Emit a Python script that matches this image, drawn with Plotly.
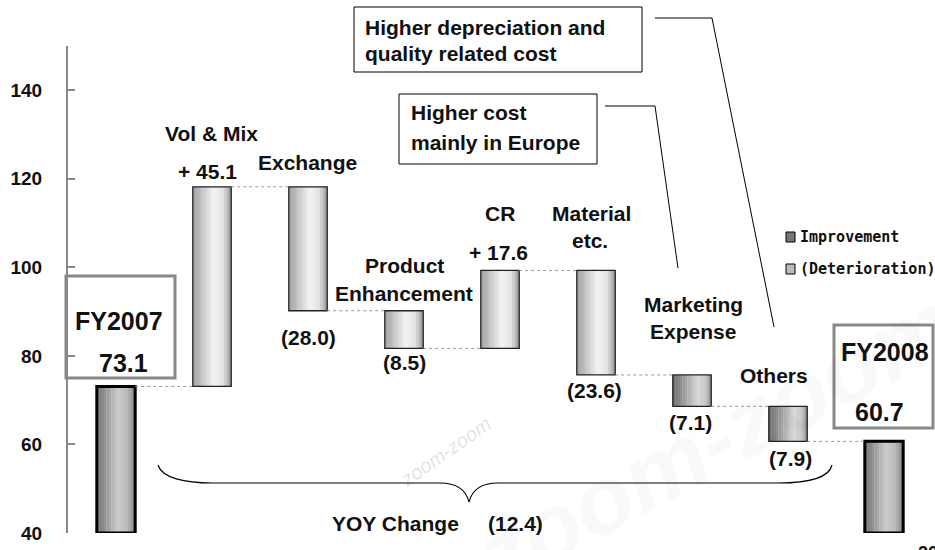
import plotly.graph_objects as go

# ---------------- data ----------------
categories = ["FY2007", "Vol & Mix", "Exchange", "Product Enhancement", "CR",
              "Material etc.", "Marketing Expense", "Others", "FY2008"]
changes = [73.1, 45.1, -28.0, -8.5, 17.6, -23.6, -7.1, -7.9, 60.7]
kinds = ["total", "light", "light", "light", "light", "light", "dark", "dark", "total"]
value_labels = ["73.1", "+ 45.1", "(28.0)", "(8.5)", "+ 17.6", "(23.6)", "(7.1)", "(7.9)", "60.7"]
yoy_change = "(12.4)"
y_ticks = [40, 60, 80, 100, 120, 140]
Y_MIN, Y_MAX = 40, 150

# ---------------- waterfall geometry from data ----------------
xs = list(range(len(categories)))
bases, heights, levels = [], [], []
level = 0.0
for i, (c, k) in enumerate(zip(changes, kinds)):
    if k == "total":
        level = c
        bases.append(Y_MIN)
        heights.append(c - Y_MIN)
    else:
        new = level + c
        bases.append(min(level, new))
        heights.append(abs(c))
        level = new
    levels.append(level)

# pixel layout of the plot area
L, R, T, B = 68, 932, 46, 533
W, H = 935, 550


def px(x):
    return (x - L) / (R - L)


def py(y):
    return (B - y) / (B - T)


FONT = "Liberation Sans, Arial, sans-serif"

# gradient profiles (t, grey level)
profiles = {
    "total": [(0, 0x70), (0.55, 0xcc), (0.8, 0xb8), (1, 0x80)],
    "light": [(0, 0xa0), (0.55, 0xf4), (0.8, 0xe0), (1, 0x95)],
    "dark": [(0, 0x6c), (0.65, 0xd8), (0.85, 0xc8), (1, 0x90)],
}


def grey(kind, t):
    p = profiles[kind]
    for (t0, g0), (t1, g1) in zip(p[:-1], p[1:]):
        if t0 <= t <= t1:
            g = g0 + (g1 - g0) * (t - t0) / (t1 - t0)
            g = int(round(g))
            return f"rgb({g},{g},{g})"
    g = p[-1][1]
    return f"rgb({g},{g},{g})"


fig = go.Figure()

BW = 0.4
N = 16
for i in range(N):
    t = (i + 0.5) / N
    fig.add_trace(go.Bar(
        x=xs, y=heights, base=bases,
        width=BW / N * 1.15, offset=-BW / 2 + i * BW / N,
        marker=dict(color=[grey(k, t) for k in kinds], line=dict(width=0)),
        hoverinfo="skip", showlegend=False,
    ))

# outlines
fig.add_trace(go.Bar(
    x=xs, y=heights, base=bases, width=BW,
    marker=dict(color="rgba(0,0,0,0)",
                line=dict(color=["#000" if k == "total" else "#222" for k in kinds],
                          width=[3 if k == "total" else 1.3 for k in kinds])),
    hoverinfo="skip", showlegend=False,
))

# connectors
cx, cy = [], []
for i in range(len(xs) - 1):
    cx += [xs[i] + BW / 2, xs[i + 1] - BW / 2, None]
    cy += [levels[i], levels[i], None]
fig.add_trace(go.Scatter(x=cx, y=cy, mode="lines",
                         line=dict(color="#999", width=1, dash="dot"),
                         hoverinfo="skip", showlegend=False))

shapes = []
annotations = []


def text(s, x, y, size=21, color="#111", xa=None):
    annotations.append(dict(
        text=f"<b>{s}</b>", xref="paper", yref="paper", x=px(x), y=py(y),
        xanchor=xa or "center", yanchor="middle", showarrow=False,
        align="left" if xa == "left" else "center",
        font=dict(family=FONT, size=size, color=color)))


# faint watermark (drawn first)
annotations.append(dict(text="<i>zoom-zoom</i>", xref="paper", yref="paper", x=px(445), y=py(452),
                        xanchor="center", yanchor="middle",
                        textangle=-35, showarrow=False,
                        font=dict(family=FONT, size=20, color="rgba(0,0,0,0.12)")))
annotations.append(dict(text="<b><i>zoom-zoom</i></b>", xref="paper", yref="paper", x=px(715), y=py(440),
                        xanchor="center", yanchor="middle",
                        textangle=-28, showarrow=False,
                        font=dict(family=FONT, size=95, color="rgba(0,0,0,0.025)")))

# category labels
text("Vol &amp; Mix", 211, 133)
text(value_labels[1], 207, 172)
text("Exchange", 307, 163)
text(value_labels[2], 308, 337)
text("Product", 404, 265)
text("Enhancement", 404, 293)
text(value_labels[3], 404, 362)
text("CR", 500, 213)
text(value_labels[4], 498, 252)
text("Material", 591, 213)
text("etc.", 590, 240)
text(value_labels[5], 594, 390)
text("Marketing", 693, 304)
text("Expense", 693, 332)
text(value_labels[6], 690, 422)
text("Others", 774, 376)
text(value_labels[7], 790, 458)

# totals boxes
shapes.append(dict(type="rect", xref="paper", yref="paper", x0=px(66), x1=px(175),
                   y0=py(276), y1=py(378), line=dict(color="#888", width=3), fillcolor="rgba(255,255,255,0)"))
shapes.append(dict(type="rect", xref="paper", yref="paper", x0=px(834), x1=px(933),
                   y0=py(325), y1=py(428), line=dict(color="#888", width=3), fillcolor="rgba(255,255,255,0)"))
text(categories[0], 119, 321, size=25)
text(value_labels[0], 123, 363, size=25)
text(categories[8], 885, 352, size=25)
text(value_labels[8], 879, 412, size=25)

# callout boxes
shapes.append(dict(type="rect", xref="paper", yref="paper", x0=px(354), x1=px(642),
                   y0=py(7), y1=py(72), line=dict(color="#000", width=1), fillcolor="white"))
shapes.append(dict(type="rect", xref="paper", yref="paper", x0=px(399), x1=px(597),
                   y0=py(94), y1=py(164), line=dict(color="#000", width=1), fillcolor="white"))
text("Higher depreciation and", 363, 27, xa="left")
text("quality related cost", 363, 53, xa="left")
text("Higher cost", 409, 113, xa="left")
text("mainly in Europe", 409, 142, xa="left")


def path(points):
    s = ""
    for j, p in enumerate(points):
        if p[0] == "C":
            s += " C " + " ".join(f"{px(a):.5f},{py(b):.5f}" for a, b in p[1:])
        else:
            s += (" M " if j == 0 else " L ") + f"{px(p[0]):.5f},{py(p[1]):.5f}"
    return s.strip()


shapes.append(dict(type="path", xref="paper", yref="paper",
                   path=path([(655, 18), (712, 18), (774, 327)]),
                   line=dict(color="#000", width=1)))
shapes.append(dict(type="path", xref="paper", yref="paper",
                   path=path([(605, 106), (655, 106), (678, 268)]),
                   line=dict(color="#000", width=1)))

# brace
shapes.append(dict(type="path", xref="paper", yref="paper",
                   path=path([(158, 465), ("C", (162, 478), (185, 483), (212, 483)), (440, 483),
                              ("C", (456, 483), (466, 490), (469, 502)),
                              ("C", (472, 490), (482, 483), (498, 483)), (778, 483),
                              ("C", (808, 483), (829, 478), (832, 465))]),
                   line=dict(color="#000", width=1.2)))
text("YOY Change", 395, 523)
text(yoy_change, 515, 523)

# legend
shapes.append(dict(type="rect", xref="paper", yref="paper", x0=px(786), x1=px(795),
                   y0=py(232), y1=py(242), line=dict(color="#000", width=1), fillcolor="#777"))
shapes.append(dict(type="rect", xref="paper", yref="paper", x0=px(786), x1=px(795),
                   y0=py(264), y1=py(274), line=dict(color="#000", width=1), fillcolor="#bbb"))
annotations.append(dict(text="<b>Improvement</b>", xref="paper", yref="paper", x=px(798), y=py(237),
                        xanchor="left", yanchor="middle", showarrow=False,
                        font=dict(family="DejaVu Sans Mono", size=15, color="#111")))
annotations.append(dict(text="<b>(Deterioration)</b>", xref="paper", yref="paper", x=px(798), y=py(269),
                        xanchor="left", yanchor="middle", showarrow=False,
                        font=dict(family="DejaVu Sans Mono", size=15, color="#111")))

# page fragments at edges
annotations.append(dict(text="<b>(Billion yen)</b>", xref="paper", yref="paper", x=px(2), y=py(2),
                        xanchor="left", yanchor="bottom", showarrow=False,
                        font=dict(family=FONT, size=18, color="#111")))
annotations.append(dict(text="<b>20</b>", xref="paper", yref="paper", x=px(916), y=py(541),
                        xanchor="left", yanchor="top", showarrow=False,
                        font=dict(family=FONT, size=18, color="#111")))

fig.update_layout(
    width=W, height=H,
    margin=dict(l=L, r=W - R, t=T, b=H - B, pad=0),
    paper_bgcolor="white", plot_bgcolor="rgba(0,0,0,0)",
    barmode="overlay", showlegend=False,
    shapes=shapes, annotations=annotations,
    xaxis=dict(range=[-0.5, 8.5], visible=False, fixedrange=True),
    yaxis=dict(range=[Y_MIN, Y_MAX], tickvals=y_ticks, showgrid=False, zeroline=False,
               showline=True, linecolor="#888", linewidth=2,
               ticks="inside", ticklen=7, tickcolor="#888", tickwidth=2,
               ticklabelstandoff=20, fixedrange=True,
               tickfont=dict(family=FONT, size=19, color="#111", weight="bold")),
)

fig.write_html("out.html", config={"displayModeBar": False},
               post_script="document.body.style.margin='0';document.body.style.overflow='hidden';")
